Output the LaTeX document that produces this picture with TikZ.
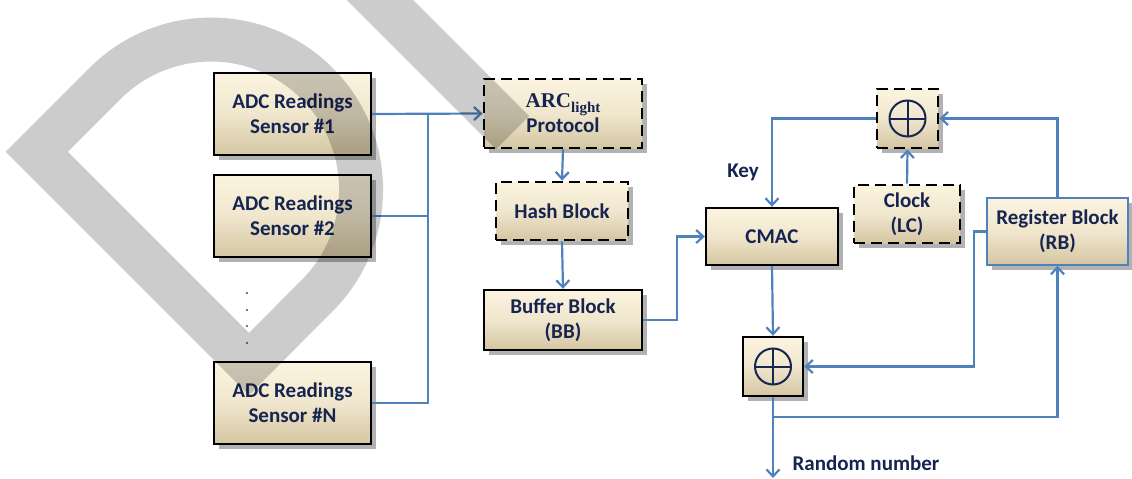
\documentclass[tikz,border=0pt]{standalone}
\usepackage{fontspec}
\setmainfont{Carlito}
\newfontfamily\arcfont{Liberation Serif}
\usetikzlibrary{arrows.meta,shadows,calc}
\definecolor{lnblue}{RGB}{79,129,189}
\definecolor{txt}{RGB}{22,36,80}
\definecolor{boxtop}{RGB}{252,244,224}
\definecolor{boxbot}{RGB}{212,198,162}
\tikzset{
  blk/.style={rectangle, top color=boxtop, bottom color=boxbot, middle color=boxtop!70!boxbot,
    text=txt, font=\fontsize{21}{25}\selectfont\bfseries, align=center, inner sep=0pt,
    drop shadow={shadow xshift=5pt, shadow yshift=-5pt, fill=black, opacity=0.3}},
  solidbox/.style={blk, draw=black, line width=2.4pt},
  dashbox/.style={blk, draw=black, line width=2.8pt, dash pattern=on 11pt off 6pt},
  regbox/.style={blk, draw=lnblue, line width=1.4pt},
  conn/.style={draw=lnblue, line width=2.2pt},
  arr/.style={conn, -{Straight Barb[length=7pt,width=13pt,line width=2.2pt]}},
  lbl/.style={text=txt, font=\fontsize{21}{25}\selectfont\bfseries, inner sep=0pt},
  xorsym/.style={draw=txt, line width=2pt}
}
\begin{document}
\begin{tikzpicture}[x=1pt,y=-1pt]
\useasboundingbox (0,0) rectangle (1132,479);
% boxes
\node[solidbox, minimum width=157pt, minimum height=82pt] (s1) at (292.5,114) {ADC Readings\\Sensor \#1};
\node[solidbox, minimum width=157pt, minimum height=82pt] (s2) at (292.5,216) {ADC Readings\\Sensor \#2};
\node[solidbox, minimum width=157pt, minimum height=82pt] (sN) at (292.5,403) {ADC Readings\\Sensor \#N};
\node[dashbox, minimum width=158pt, minimum height=69pt] (arc) at (563,113.5) {{\arcfont ARC\raisebox{-0.45ex}{\fontsize{15}{15}\selectfont light}}\\Protocol};
\node[dashbox, minimum width=132pt, minimum height=58pt] (hash) at (562,211) {Hash Block};
\node[solidbox, minimum width=158pt, minimum height=60pt] (buf) at (563,320) {Buffer Block\\(BB)};
\node[solidbox, minimum width=132pt, minimum height=57pt] (cmac) at (772,236.5) {CMAC};
\node[dashbox, minimum width=61pt, minimum height=59pt] (x1) at (907.5,118.5) {};
\node[dashbox, minimum width=106pt, minimum height=58pt] (clk) at (907,214) {Clock\\(LC)};
\node[regbox, minimum width=141pt, minimum height=67pt] (rb) at (1057.5,231.5) {Register Block\\(RB)};
\node[solidbox, minimum width=60pt, minimum height=59pt] (x2) at (773,366.5) {};
% xor symbols
\foreach \n in {x1,x2}{
  \draw[xorsym] (\n.center) circle[radius=18pt];
  \draw[xorsym] ($(\n.center)+(-18,0)$) -- ($(\n.center)+(18,0)$);
  \draw[xorsym] ($(\n.center)+(0,-18)$) -- ($(\n.center)+(0,18)$);
}
% dots
\foreach \yy in {293,310,326,343}{
  \fill[black!70] (247,\yy) circle[radius=1.1pt];
}
% labels
\node[lbl] (key) at (743,172) {Key};
\node[lbl] (rn) at (866,463) {Random number};
% connectors
\coordinate (bt) at (428,114);
\coordinate (bb) at (428,403);
\draw[arr] (s1.east) -- (arc.west);
\draw[conn] (s2.east) -- (s2.east -| bt);
\draw[conn] (sN.east) -- (bb) -- (bt);
\draw[arr] (arc.south) -- (hash.north);
\draw[arr] (hash.south) -- (buf.north);
\draw[arr] (buf.east) -- ++(34,0) |- (cmac.west);
\draw[arr] (x1.west) -| (cmac.north);
\draw[arr] (clk.north) -- (x1.south);
\draw[arr] (rb.north) |- (x1.east);
\draw[arr] (rb.west) -- ++(-12,0) |- (x2.east);
\draw[arr] (cmac.south) -- (x2.north);
\coordinate (out) at (773,478);
\coordinate (br) at (773,417);
\draw[arr] (x2.south) -- (out);
\draw[arr] (br) -| (rb.south);
% watermark
\begin{scope}
\clip (0,0) rectangle (1132,479);
\draw[line width=44pt, black, draw opacity=0.2] (36.75,151.75) -- (105,83.5) arc[start angle=135, end angle=-45, radius=150pt] -- (249,364) -- cycle;
\draw[line width=47pt, black, draw opacity=0.2] (355,-25) -- (512.5,132.5);
\end{scope}
\end{tikzpicture}
\end{document}
